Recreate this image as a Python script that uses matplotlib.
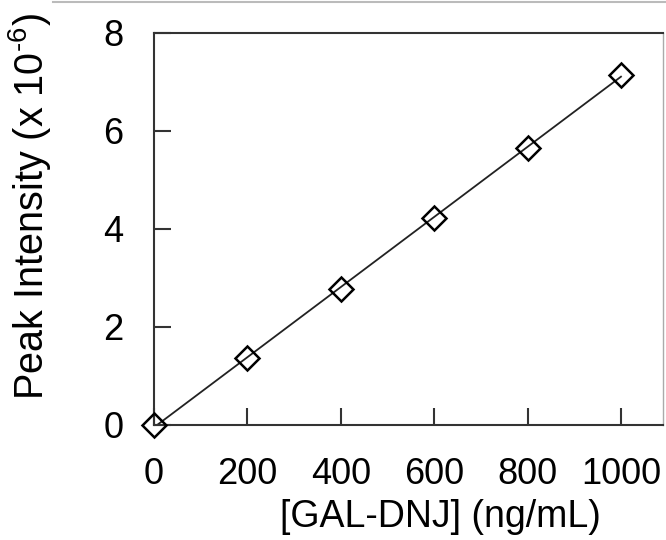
import numpy as np
import matplotlib
matplotlib.use("Agg")
import matplotlib.pyplot as plt
from matplotlib.lines import Line2D

plt.rcParams['font.family'] = ['Liberation Sans', 'DejaVu Sans']

# calibration data
conc = [0, 200, 400, 600, 800, 1000]          # ng/mL
intensity = [0.0, 1.36, 2.78, 4.23, 5.66, 7.15]  # x 10^-6
xticks = [0, 200, 400, 600, 800, 1000]
yticks = [0, 2, 4, 6, 8]

fig = plt.figure(figsize=(6.66, 5.4), dpi=100)
ax = fig.add_axes([0.2312, 0.213, 0.7643, 0.7259])

# linear fit drawn as the calibration line
slope, icpt = np.polyfit(conc, intensity, 1)
xfit = np.array([conc[0], conc[-1]])
ax.plot(xfit, slope * xfit + icpt, color="#222222", lw=1.3, zorder=2)
ax.plot(conc, intensity, linestyle="none", marker="D", markersize=12,
        markerfacecolor="none", markeredgecolor="black", markeredgewidth=1.8,
        clip_on=False, zorder=3)

ax.set_xlim(0, 1090)
ax.set_ylim(0, 8)
ax.set_xticks(xticks)
ax.set_yticks(yticks)
ax.tick_params(direction="in", length=12, width=1.5, labelsize=26, color="#333333")
ax.tick_params(axis="x", pad=23)
ax.tick_params(axis="y", pad=22)

for side in ["top", "bottom", "left"]:
    ax.spines[side].set_linewidth(1.5)
    ax.spines[side].set_color("#333333")
ax.spines["right"].set_linewidth(1)
ax.spines["right"].set_color("#aaaaaa")

ax.set_xlabel("[GAL-DNJ] (ng/mL)", fontsize=27)
ax.set_ylabel("Peak Intensity (x 10$^{\\mathregular{\u20106}}$)", fontsize=28.5)
ax.xaxis.set_label_coords(0.562, -0.189)
ax.yaxis.set_label_coords(-0.198, 0.556)

# thin grey rule at the top of the page
fig.add_artist(Line2D([53 / 666, 1], [0.996, 0.996], color="#bbbbbb", lw=1.5))

fig.savefig("out.png", dpi=100)
